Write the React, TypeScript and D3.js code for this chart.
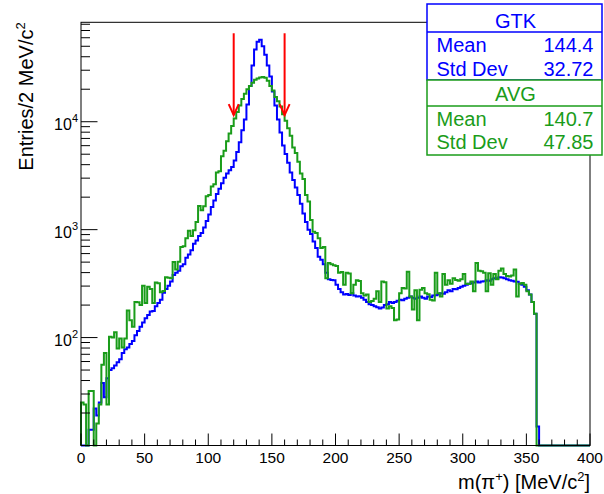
import React from "react";
import * as d3 from "d3";

// ---------------- data ----------------
const binWidth = 2; // MeV per bin
const massRange = [0, 400];

// GTK (blue) entries per 2 MeV bin, 0..400 MeV
const gtkCounts = [
  0, 0, 0, 14, 14, 22, 19, 25, 38, 28,
  42, 50, 52, 55, 59, 63, 72, 78, 81, 87,
  93, 105, 115, 126, 138, 151, 162, 174, 176, 195,
  209, 224, 260, 282, 302, 331, 380, 398, 417, 457,
  479, 550, 589, 646, 741, 794, 871, 933, 1047, 1202,
  1380, 1622, 1862, 2138, 2399, 2692, 3020, 3311, 3548, 3802,
  4365, 5248, 6457, 8318, 10471, 14454, 21380, 33113, 46774, 54954,
  57544, 50119, 41687, 33113, 26303, 19055, 14125, 10471, 7943, 6026,
  5012, 4169, 3388, 2884, 2455, 2089, 1738, 1413, 1175, 1000,
  912, 776, 676, 562, 525, 479, 398, 347, 342, 339,
  309, 282, 263, 251, 254, 248, 257, 245, 240, 242,
  234, 224, 214, 204, 200, 195, 191, 186, 190, 200,
  204, 214, 209, 214, 219, 224, 222, 229, 234, 240,
  234, 229, 234, 240, 234, 229, 240, 238, 245, 247,
  251, 257, 255, 263, 275, 269, 282, 280, 288, 295,
  302, 309, 316, 318, 324, 331, 324, 331, 333, 339,
  337, 347, 355, 352, 363, 361, 355, 347, 339, 336,
  331, 329, 316, 309, 295, 275, 251, 214, 166, 15,
  0, 0, 0, 0, 0, 0, 0, 0, 0, 0,
  0, 0, 0, 0, 0, 0, 0, 0, 0, 0,
];

// AVG (green) entries per 2 MeV bin, 0..400 MeV
const avgCounts = [
  25, 24, 0, 32, 32, 0, 16, 24, 56, 72,
  24, 102, 100, 112, 79, 98, 81, 98, 178, 145,
  126, 214, 212, 200, 302, 209, 295, 282, 209, 324,
  318, 263, 270, 363, 358, 355, 501, 427, 505, 692,
  700, 832, 977, 871, 985, 1175, 1660, 1514, 1650, 2042,
  2089, 2512, 2630, 3388, 3467, 4786, 5370, 6607, 7762, 9120,
  10715, 12303, 14125, 16218, 18197, 19953, 21380, 22909, 24547, 25119,
  25704, 25900, 25500, 23988, 21380, 19498, 16982, 15488, 13804, 11749,
  10233, 8710, 7413, 5754, 5129, 4266, 3311, 2951, 2089, 1820,
  1230, 955, 933, 832, 676, 692, 355, 490, 478, 468,
  460, 398, 405, 309, 398, 392, 257, 309, 339, 335,
  257, 245, 251, 214, 218, 229, 269, 214, 331, 326,
  186, 195, 188, 145, 147, 257, 288, 285, 407, 240,
  182, 275, 145, 278, 288, 257, 252, 224, 221, 398,
  257, 240, 389, 309, 339, 316, 355, 342, 336, 347,
  389, 316, 313, 331, 269, 490, 417, 412, 398, 269,
  395, 309, 389, 347, 417, 437, 389, 372, 368, 375,
  427, 240, 316, 320, 309, 269, 251, 214, 166, 0,
  0, 0, 0, 0, 0, 0, 0, 0, 0, 0,
  0, 0, 0, 0, 0, 0, 0, 0, 0, 0,
];

const xMajorTicks = [0, 50, 100, 150, 200, 250, 300, 350, 400];
const yDecadeTicks = [100, 1000, 10000];
const yDecadeExponents = ["2", "3", "4"];
const yAxisRange = [10, 83400];

const arrowMasses = [120, 160];
const arrowTopValue = 66000;
const arrowTipValue = 11500;

const statLabels = ["Mean", "Std Dev"];
const gtkStats = ["144.4", "32.72"];
const avgStats = ["140.7", "47.85"];

// ---------------- styling ----------------
const W = 604;
const H = 494;
const FONT = "'Liberation Sans', Arial, Helvetica, sans-serif";
const BLUE = "#0000ff";
const GREEN = "#1a9c1a";
const RED = "#ff0000";

const frame = { left: 81, right: 590, top: 22.3, bottom: 445.5 };

export default function App() {
  const x = d3.scaleLinear().domain(massRange).range([frame.left, frame.right]);
  const y = d3.scaleLog().domain(yAxisRange).range([frame.bottom, frame.top]);

  const histPath = (counts: number[]) => {
    const p = d3.path();
    p.moveTo(x(massRange[0]), frame.bottom);
    counts.forEach((c, i) => {
      const yy = c > 0 ? y(Math.max(c, yAxisRange[0])) : frame.bottom;
      p.lineTo(x(i * binWidth), yy);
      p.lineTo(x((i + 1) * binWidth), yy);
    });
    p.lineTo(x(massRange[1]), frame.bottom);
    return p.toString();
  };

  const xMinor = d3.range(massRange[0], massRange[1] + 1, 10).filter((v) => v % 50 !== 0);
  const yMinor: number[] = [];
  for (let d = 10; d < yAxisRange[1]; d *= 10) {
    for (let k = 2; k <= 9; k++) {
      const v = k * d;
      if (v > yAxisRange[0] && v < yAxisRange[1]) yMinor.push(v);
    }
  }

  const boxL = 427;
  const boxR = 602;
  const labelX = 436.5;
  const valueX = 593.5;
  const titleX = (boxL + boxR) / 2 + 1;

  return (
    <svg
      width={W}
      height={H}
      viewBox={`0 0 ${W} ${H}`}
      style={{ position: "absolute", left: 0, top: 0, background: "#fff" }}
      fontFamily={FONT}
    >
      <rect x={0} y={0} width={W} height={H} fill="#fff" />

      {/* histograms */}
      <path d={histPath(gtkCounts)} fill="none" stroke={BLUE} strokeWidth={2} strokeLinejoin="miter" />
      <path d={histPath(avgCounts)} fill="none" stroke={GREEN} strokeWidth={2} strokeLinejoin="miter" />

      {/* frame */}
      <rect
        x={frame.left}
        y={frame.top}
        width={frame.right - frame.left}
        height={frame.bottom - frame.top}
        fill="none"
        stroke="#000"
        strokeWidth={1}
      />

      {/* x ticks */}
      {xMajorTicks.map((t) => (
        <g key={"xm" + t}>
          <line x1={x(t)} x2={x(t)} y1={frame.bottom} y2={frame.bottom - 12} stroke="#000" strokeWidth={1} />
          <text x={x(t)} y={463} textAnchor="middle" fontSize={15.5} fill="#000">
            {t}
          </text>
        </g>
      ))}
      {xMinor.map((t) => (
        <line key={"xn" + t} x1={x(t)} x2={x(t)} y1={frame.bottom} y2={frame.bottom - 6} stroke="#000" strokeWidth={1} />
      ))}

      {/* y ticks */}
      {yDecadeTicks.map((t, i) => (
        <g key={"ym" + t}>
          <line x1={frame.left} x2={frame.left + 16.5} y1={y(t)} y2={y(t)} stroke="#000" strokeWidth={1} />
          <text x={78} y={y(t) + 8.3} textAnchor="end" fontSize={16} fill="#000">
            10
            <tspan fontSize={11} dy={-8.3}>
              {yDecadeExponents[i]}
            </tspan>
          </text>
        </g>
      ))}
      {yMinor.map((t) => (
        <line key={"yn" + t} x1={frame.left} x2={frame.left + 9} y1={y(t)} y2={y(t)} stroke="#000" strokeWidth={1} />
      ))}

      {/* axis titles */}
      <text x={frame.right} y={489} textAnchor="end" fontSize={20} fill="#000">
        m(π
        <tspan fontSize={13} dy={-8}>
          +
        </tspan>
        <tspan dy={8}>) [MeV/c</tspan>
        <tspan fontSize={13} dy={-8}>
          2
        </tspan>
        <tspan dy={8}>]</tspan>
      </text>
      <text transform={`translate(33,${frame.top}) rotate(-90)`} textAnchor="end" fontSize={20} fill="#000">
        Entries/2 MeV/c
        <tspan fontSize={13} dy={-8}>
          2
        </tspan>
      </text>

      {/* arrows */}
      {arrowMasses.map((m) => {
        const ax = x(m);
        const yt = y(arrowTopValue);
        const yb = y(arrowTipValue);
        return (
          <g key={"ar" + m} stroke={RED} strokeWidth={2} fill="none">
            <line x1={ax} x2={ax} y1={yt} y2={yb} />
            <polyline points={`${ax - 5},${yb - 11} ${ax},${yb} ${ax + 5},${yb - 11}`} strokeLinejoin="miter" />
          </g>
        );
      })}

      {/* stats boxes */}
      <g>
        <rect x={boxL} y={4} width={boxR - boxL} height={76} fill="#fff" stroke={BLUE} strokeWidth={1.5} />
        <line x1={boxL} x2={boxR} y1={32} y2={32} stroke={BLUE} strokeWidth={1.5} />
        <text x={titleX} y={27.5} textAnchor="middle" fontSize={20} fill={BLUE}>
          GTK
        </text>
        {statLabels.map((l, i) => (
          <g key={"g" + l}>
            <text x={labelX} y={52 + i * 23.5} fontSize={20} fill={BLUE}>
              {l}
            </text>
            <text x={valueX} y={52 + i * 23.5} textAnchor="end" fontSize={20} fill={BLUE}>
              {gtkStats[i]}
            </text>
          </g>
        ))}
      </g>
      <g>
        <rect x={boxL} y={80} width={boxR - boxL} height={75} fill="#fff" stroke={GREEN} strokeWidth={1.5} />
        <line x1={boxL} x2={boxR} y1={106} y2={106} stroke={GREEN} strokeWidth={1.5} />
        <text x={titleX} y={100.5} textAnchor="middle" fontSize={20} fill={GREEN}>
          AVG
        </text>
        {statLabels.map((l, i) => (
          <g key={"a" + l}>
            <text x={labelX} y={125.5 + i * 23} fontSize={20} fill={GREEN}>
              {l}
            </text>
            <text x={valueX} y={125.5 + i * 23} textAnchor="end" fontSize={20} fill={GREEN}>
              {avgStats[i]}
            </text>
          </g>
        ))}
      </g>
    </svg>
  );
}
